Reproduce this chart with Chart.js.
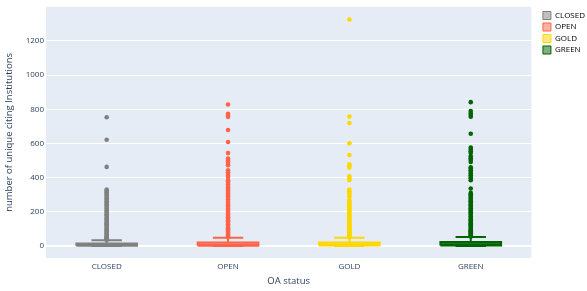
<!DOCTYPE html>
<html>
<head>
<meta charset="utf-8">
<script src="https://cdn.jsdelivr.net/npm/chart.js@4.4.0/dist/chart.umd.min.js"></script>
<style>
  html, body { margin: 0; padding: 0; background: #fff; }
</style>
</head>
<body>
<canvas id="boxChart" width="587" height="291"></canvas>
<script>
/* box plot: unique citing institutions per OA status */

const categories = ['CLOSED', 'OPEN', 'GOLD', 'GREEN'];
const colors = ['#808080', '#ff6347', '#ffd700', '#006400'];
const fills = ['rgba(128,128,128,0.5)', 'rgba(255,99,71,0.5)', 'rgba(255,215,0,0.5)', 'rgba(0,100,0,0.5)'];

const lowerFence = [0, 0, 0, 0];
const q1 = [2, 2, 3, 3];
const medians = [6, 8, 9, 10];
const q3 = [15, 20, 21, 23];
const upperFence = [34, 48, 48, 53];

const yTicks = [0, 200, 400, 600, 800, 1000, 1200];

const outClosed = [754, 622, 463, 331, 325, 318, 312, 305, 296, 288, 280, 271, 262, 254, 245, 236, 228, 219, 210,
  202, 194, 186, 178, 170, 162, 155, 148, 141, 134, 127, 120, 113, 106, 100, 94, 88, 82, 76, 70, 65, 60, 55, 50, 46, 42, 38, 36];
const outOpen = [828, 774, 764, 756, 679, 609, 544, 512, 503, 494, 482, 473, 443, 432, 421, 412, 404, 385, 377, 369,
  360, 351, 342, 334, 325, 316, 307, 298, 290, 281, 272, 263, 254, 246, 237, 228, 219, 211, 202, 193, 185, 176, 168,
  160, 151, 143, 135, 127, 119, 111, 104, 97, 90, 83, 77, 71, 65, 60, 55, 51];
const outGold = [1326, 758, 720, 601, 533, 478, 468, 459, 408, 396, 385, 331, 320, 309, 298, 288, 268, 260, 251, 243,
  234, 226, 217, 209, 200, 192, 184, 176, 168, 160, 152, 144, 136, 128, 121, 114, 107, 100, 93, 86, 80, 74, 68, 62, 57, 52, 50];
const outGreen = [842, 790, 778, 768, 757, 657, 576, 565, 554, 544, 525, 514, 503, 492, 461, 452, 443, 433, 424, 414,
  404, 395, 385, 337, 311, 303, 295, 287, 278, 270, 262, 254, 246, 238, 229, 221, 213, 205, 197, 189, 181, 173, 165,
  157, 149, 142, 134, 127, 120, 113, 106, 99, 92, 86, 80, 74, 68, 63, 58, 56];
const outliers = [outClosed, outOpen, outGold, outGreen];

const BOX_HALF = 0.25;
const CAP_HALF = 0.125;
const TXT = '#2a3f5f';

/* ---------- datasets ---------- */

function bouwDatasets() {
  const sets = [];
  categories.forEach((cat, i) => {
    sets.push({
      label: cat + ' outliers',
      data: outliers[i].map(v => ({ x: i, y: v })),
      showLine: false,
      pointRadius: 2.3,
      pointBorderWidth: 0,
      pointBackgroundColor: colors[i]
    });
    sets.push({
      label: cat + ' whiskers',
      data: [
        { x: i, y: q3[i] }, { x: i, y: upperFence[i] }, { x: i, y: null },
        { x: i - CAP_HALF, y: upperFence[i] }, { x: i + CAP_HALF, y: upperFence[i] }, { x: i, y: null },
        { x: i, y: q1[i] }, { x: i, y: lowerFence[i] }, { x: i, y: null },
        { x: i - CAP_HALF, y: lowerFence[i] }, { x: i + CAP_HALF, y: lowerFence[i] }
      ],
      showLine: true,
      spanGaps: false,
      pointRadius: 0,
      borderWidth: 2,
      borderColor: colors[i]
    });
    sets.push({
      label: cat,
      data: [
        { x: i - BOX_HALF, y: q1[i] }, { x: i + BOX_HALF, y: q1[i] },
        { x: i + BOX_HALF, y: q3[i] }, { x: i - BOX_HALF, y: q3[i] },
        { x: i - BOX_HALF, y: q1[i] }
      ],
      showLine: true,
      fill: 'shape',
      pointRadius: 0,
      borderWidth: 2,
      borderColor: colors[i],
      backgroundColor: fills[i]
    });
    sets.push({
      label: cat + ' median',
      data: [{ x: i - BOX_HALF, y: medians[i] }, { x: i + BOX_HALF, y: medians[i] }],
      showLine: true,
      pointRadius: 0,
      borderWidth: 2,
      borderColor: colors[i]
    });
  });
  return sets;
}

const plotBg = {
  id: 'plotBg',
  beforeDraw(chart) {
    const { ctx, chartArea: a } = chart;
    ctx.save();
    ctx.fillStyle = '#e5ecf6';
    ctx.fillRect(a.left, a.top, a.right - a.left, a.bottom - a.top);
    ctx.restore();
  }
};

/* schuif de legenda iets naar rechts/onder, zoals in plotly */
const legendShift = {
  id: 'legendShift',
  afterLayout(chart) {
    if (!chart.legend) return;
    chart.legend.left += 8;
    chart.legend.top += 2;
  }
};

Chart.defaults.font.family = '"Open Sans", verdana, arial, sans-serif';
Chart.defaults.color = TXT;

new Chart(document.getElementById('boxChart'), {
  type: 'scatter',
  data: { datasets: bouwDatasets() },
  options: {
    responsive: false,
    animation: false,
    layout: { padding: { top: 6, left: 0, right: 0, bottom: 0 } },
    plugins: {
      tooltip: { enabled: false },
      legend: {
        position: 'right',
        align: 'start',
        onClick: null,
        labels: {
          boxWidth: 8,
          boxHeight: 8,
          padding: 3.5,
          font: { size: 8 },
          color: TXT,
          generateLabels: () => categories.map((c, i) => ({
            text: c, fillStyle: fills[i], strokeStyle: colors[i], lineWidth: 1, hidden: false
          }))
        }
      }
    },
    scales: {
      x: {
        type: 'linear',
        min: -0.5,
        max: 3.5,
        afterBuildTicks: s => { s.ticks = categories.map((_, i) => ({ value: i })); },
        afterFit: s => { s.height = 33; },
        ticks: { callback: v => categories[v], font: { size: 8 }, padding: 4, maxRotation: 0 },
        grid: { display: false, drawTicks: false },
        border: { display: false },
        title: { display: true, text: 'OA status', font: { size: 9.5 }, padding: { top: 4, bottom: 4 } }
      },
      y: {
        min: -70,
        max: 1400,
        afterBuildTicks: s => { s.ticks = yTicks.map(v => ({ value: v })); },
        afterFit: s => { s.width = 46; },
        ticks: { callback: v => String(v), font: { size: 8 }, padding: 2 },
        grid: { color: '#ffffff', lineWidth: c => c.tick && c.tick.value === 0 ? 2 : 1, drawTicks: false },
        border: { display: false },
        title: { display: true, text: 'number of unique citing Institutions', font: { size: 9.5 }, padding: { top: 4, bottom: 0 } }
      }
    }
  },
  plugins: [plotBg, legendShift]
});
</script>
</body>
</html>
